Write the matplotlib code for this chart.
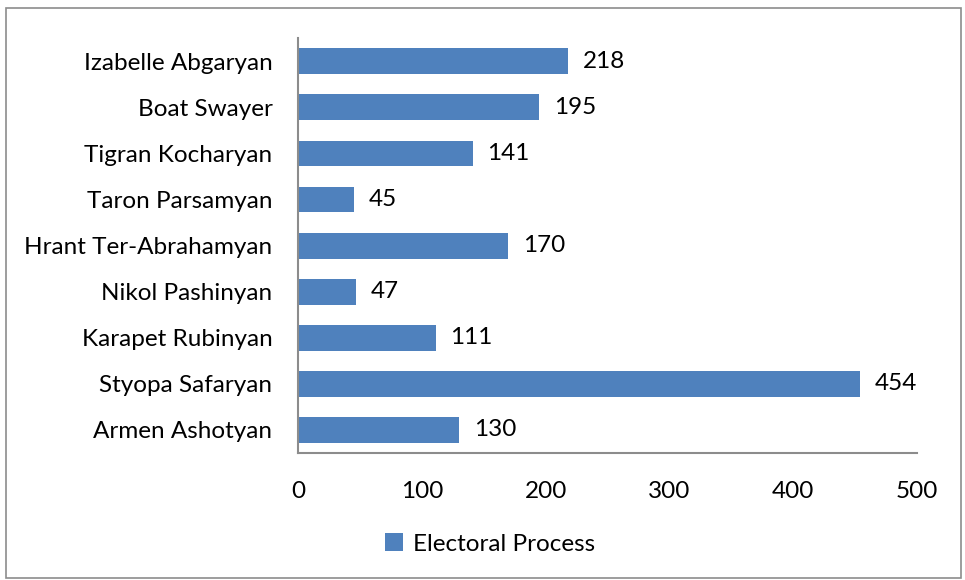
import matplotlib
matplotlib.use('Agg')
import matplotlib.pyplot as plt
from matplotlib.patches import Rectangle

candidates = ["Armen Ashotyan", "Styopa Safaryan", "Karapet Rubinyan", "Nikol Pashinyan",
              "Hrant Ter-Abrahamyan", "Taron Parsamyan", "Tigran Kocharyan", "Boat Swayer",
              "Izabelle Abgaryan"]
votes = [130, 454, 111, 47, 170, 45, 141, 195, 218]
series_name = "Electoral Process"
xticks = [0, 100, 200, 300, 400, 500]

bar_color = "#4F81BD"
plt.rcParams['font.family'] = ['Lato', 'DejaVu Sans']
fs = 17.5

fig = plt.figure(figsize=(9.65, 5.8), dpi=100)
ax = fig.add_axes([0.309, 0.219, 0.641, 0.715])

ypos = range(len(candidates))
bars = ax.barh(ypos, votes, height=0.56, color=bar_color)
for b, v in zip(bars, votes):
    ax.text(b.get_width() + 12, b.get_y() + b.get_height() / 2, str(v),
            va='center', ha='left', fontsize=fs, color='black')

ax.set_yticks(list(ypos))
ax.set_yticklabels(candidates, fontsize=fs)
ax.set_xticks(xticks)
ax.set_xticklabels([str(t) for t in xticks], fontsize=fs)
ax.set_xlim(0, 500)
ax.set_ylim(-0.5, len(candidates) - 0.5)
ax.tick_params(axis='both', length=0)
ax.tick_params(axis='x', pad=20)
ax.tick_params(axis='y', pad=18.5)
for s in ['top', 'right']:
    ax.spines[s].set_visible(False)
for s in ['left', 'bottom']:
    ax.spines[s].set_color('#8C8C8C')
    ax.spines[s].set_linewidth(1.5)

leg = fig.legend([bars[0]], [series_name], loc='center', bbox_to_anchor=(0.508, 0.062),
                 frameon=False, fontsize=fs, handlelength=0.75, handleheight=0.75,
                 handletextpad=0.4)

fig.patches.append(Rectangle((0.006, 0.003), 0.99, 0.983, transform=fig.transFigure,
                             fill=False, edgecolor='#8C8C8C', linewidth=1.2))

fig.savefig("out.png", dpi=100)
